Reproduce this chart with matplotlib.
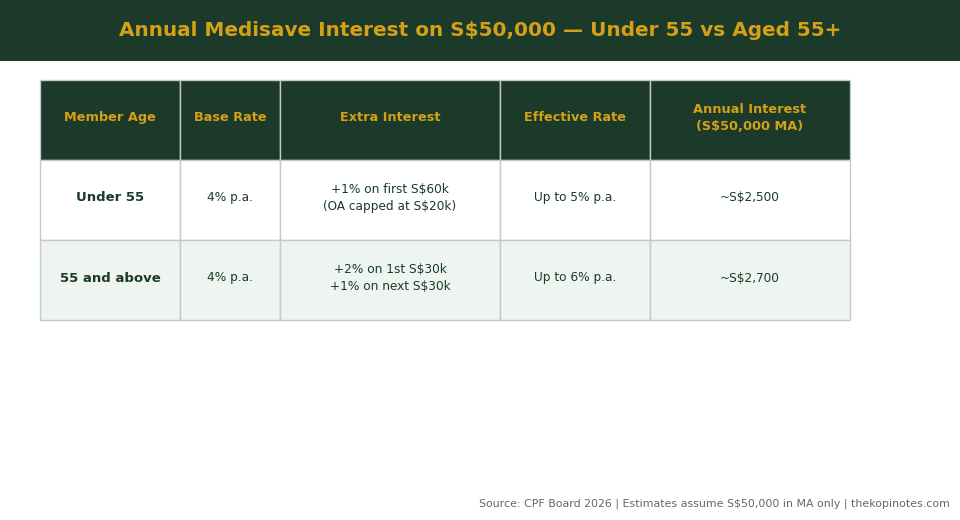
import matplotlib.pyplot as plt
import matplotlib.transforms as mtransforms
from matplotlib.patches import Rectangle

DARK = "#1b3a2a"
GOLD = "#d4a017"

col_labels = ["Member Age", "Base Rate", "Extra Interest", "Effective Rate",
              "Annual Interest\n(S$50,000 MA)"]
member_age = ["Under 55", "55 and above"]
base_rate = ["4% p.a.", "4% p.a."]
extra_interest = ["+1% on first S$60k\n(OA capped at S$20k)",
                  "+2% on 1st S$30k\n+1% on next S$30k"]
effective_rate = ["Up to 5% p.a.", "Up to 6% p.a."]
annual_interest = ["~S$2,500", "~S$2,700"]

col_widths = [140, 100, 220, 150, 200]

rows = [list(r) for r in zip(member_age, base_rate, extra_interest,
                             effective_rate, annual_interest)]

fig = plt.figure(figsize=(9.6, 5.2), dpi=100)

# title banner
fig.patches.append(Rectangle((0, 1 - 61 / 520), 1, 61 / 520, transform=fig.transFigure,
                             facecolor=DARK, edgecolor="none", zorder=0))
fig.text(0.5, 1 - 31 / 520, "Annual Medisave Interest on S$50,000 \u2014 Under 55 vs Aged 55+",
         ha="center", va="center", color=GOLD, fontsize=14.4, fontweight="bold")

ax = fig.add_axes([40 / 960, 200 / 520, 810 / 960, 240 / 520])
ax.axis("off")

total = sum(col_widths)
tbl = ax.table(cellText=rows, colLabels=col_labels,
               colWidths=[w / total for w in col_widths],
               cellLoc="center", bbox=[0, 0, 1, 1])
tbl.auto_set_font_size(False)

# nudge cell text up a couple of pixels
nudge = mtransforms.Affine2D().translate(0, 2)

for (r, c), cell in tbl.get_celld().items():
    cell.set_edgecolor("#c8c8c8")
    cell.set_linewidth(1)
    txt = cell.get_text()
    txt.set_transform(nudge)
    if r == 0:
        cell.set_facecolor(DARK)
        txt.set_color(GOLD)
        txt.set_fontweight("bold")
        txt.set_fontsize(9.3)
    else:
        cell.set_facecolor("white" if r == 1 else "#eef5f0")
        txt.set_color(DARK)
        if c == 0:
            txt.set_fontweight("bold")
            txt.set_fontsize(9.5)
        else:
            txt.set_fontsize(8.7)
    txt.set_linespacing(1.4)

fig.text(1 - 10 / 960, 1 - 504 / 520,
         "Source: CPF Board 2026 | Estimates assume S$50,000 in MA only | thekopinotes.com",
         ha="right", va="center", color="#666666", fontsize=7.9)

fig.savefig("out.png", dpi=100)
